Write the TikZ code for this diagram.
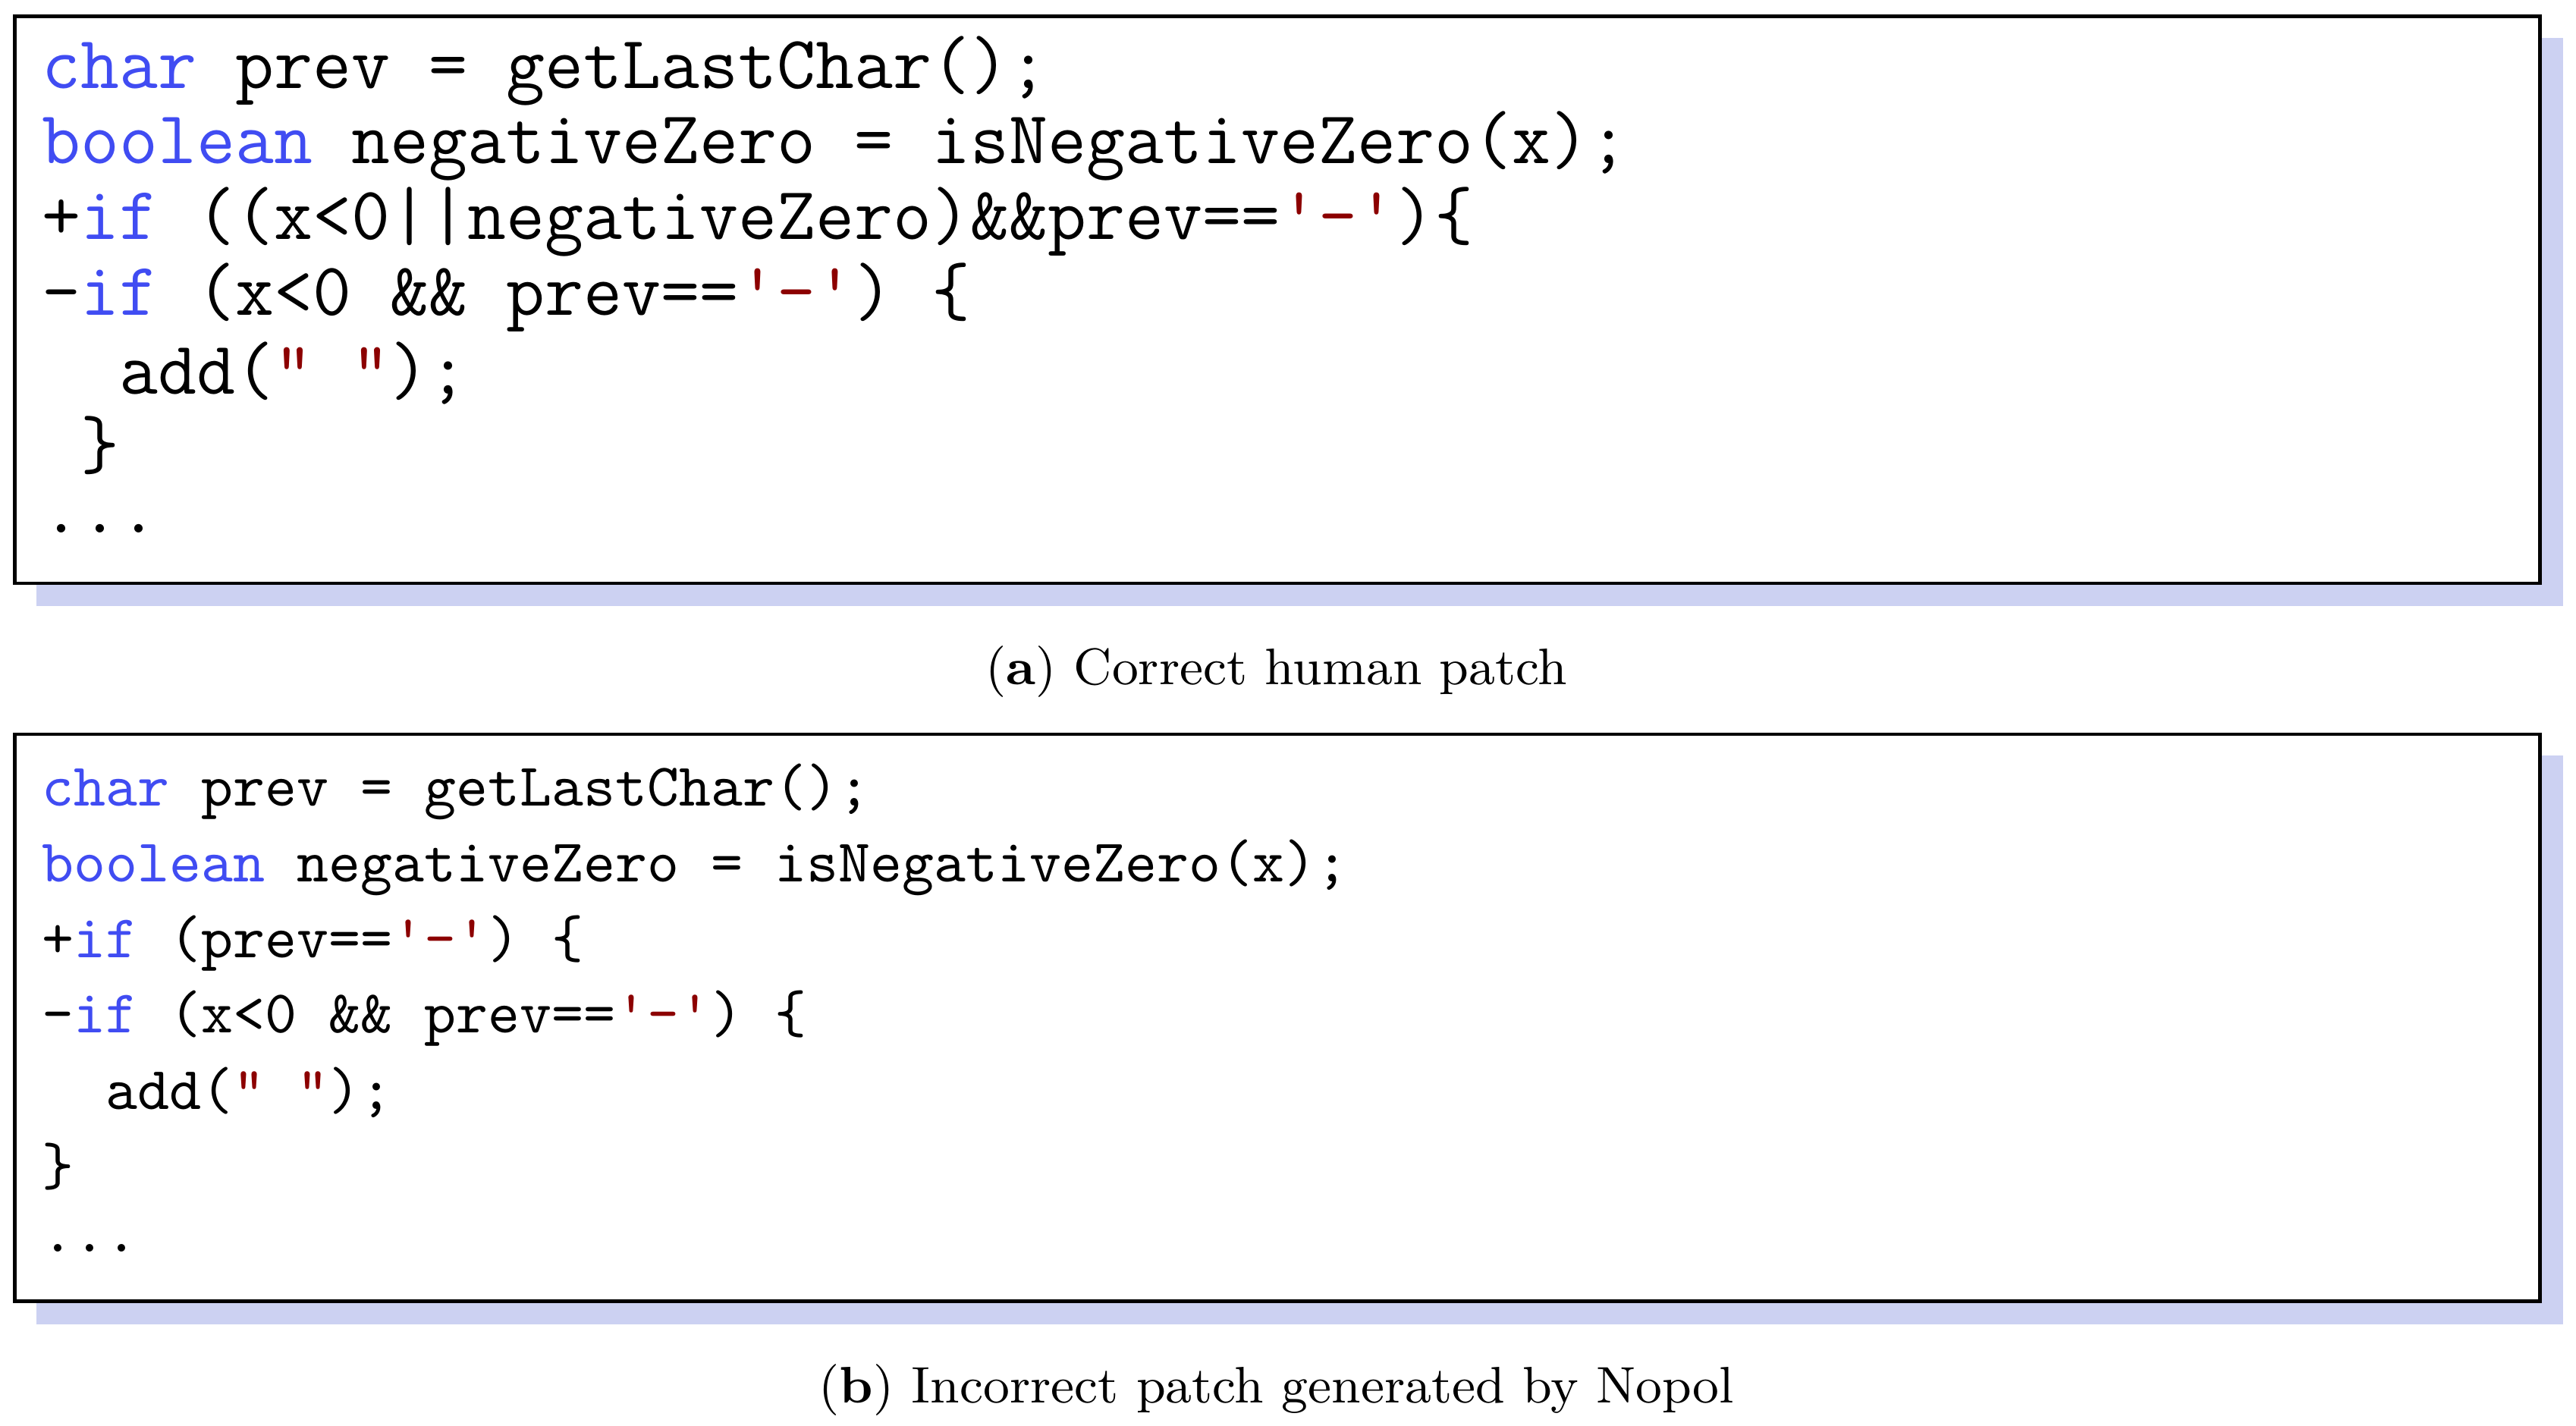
\documentclass[tikz,border=0pt]{standalone}
\usepackage{xcolor}
\definecolor{kwblue}{rgb}{0.25,0.3,0.95}
\definecolor{strred}{rgb}{0.55,0.0,0.0}
\definecolor{shadowblue}{rgb}{0.80,0.82,0.95}
\newcommand{\kw}[1]{\textcolor{kwblue}{#1}}
\newcommand{\str}[1]{\textcolor{strred}{#1}}
\begin{document}
\begin{tikzpicture}[x=0.01cm,y=-0.01cm,
	codebig/.style={anchor=west, inner sep=0pt, font=\fontsize{13}{15}\selectfont\ttfamily},
	codesmall/.style={anchor=west, inner sep=0pt, font=\fontsize{10.5}{12}\selectfont\ttfamily},
	caption/.style={inner sep=0pt, font=\fontsize{8.9}{11}\selectfont}]
		\useasboundingbox (0,0) rectangle (1568,868);
		% shadows and frames
		\fill[shadowblue] (22,23) rectangle (1560,369);
		\draw[draw=black, semithick, fill=white] (9,10) rectangle (1546,355);
		\fill[shadowblue] (22,460) rectangle (1560,806);
		\draw[draw=black, semithick, fill=white] (9,447) rectangle (1546,792);
		% top listing
		\node[codebig] (l1) at (25,43) {\kw{char} prev = getLastChar();};
		\node[codebig] (l2) at (25,89) {\kw{boolean} negativeZero = isNegativeZero(x);};
		\node[codebig] (l3) at (25,135) {+\kw{if} ((x<0||negativeZero)\&\&prev==\str{'-'})\{};
		\node[codebig] (l4) at (25,181) {-\kw{if} (x<0 \&\& prev==\str{'-'}) \{};
		\node[codebig] (l5) at (25,227) {~~add(\str{" "});};
		\node[codebig] (l6) at (25,271) {~\}};
		\node[codebig] (l7) at (25,322) {...};
		\node[caption] (capa) at (777,409) {(\textbf{a}) Correct human patch};
		% bottom listing
		\node[codesmall] (m1) at (25,482) {\kw{char} prev = getLastChar();};
		\node[codesmall] (m2) at (25,528) {\kw{boolean} negativeZero = isNegativeZero(x);};
		\node[codesmall] (m3) at (25,574) {+\kw{if} (prev==\str{'-'}) \{};
		\node[codesmall] (m4) at (25,620) {-\kw{if} (x<0 \&\& prev==\str{'-'}) \{};
		\node[codesmall] (m5) at (25,665) {~~add(\str{" "});};
		\node[codesmall] (m6) at (25,710) {\}};
		\node[codesmall] (m7) at (25,760) {...};
		\node[caption] (capb) at (777,846) {(\textbf{b}) Incorrect patch generated by Nopol};
	\end{tikzpicture}
\end{document}
